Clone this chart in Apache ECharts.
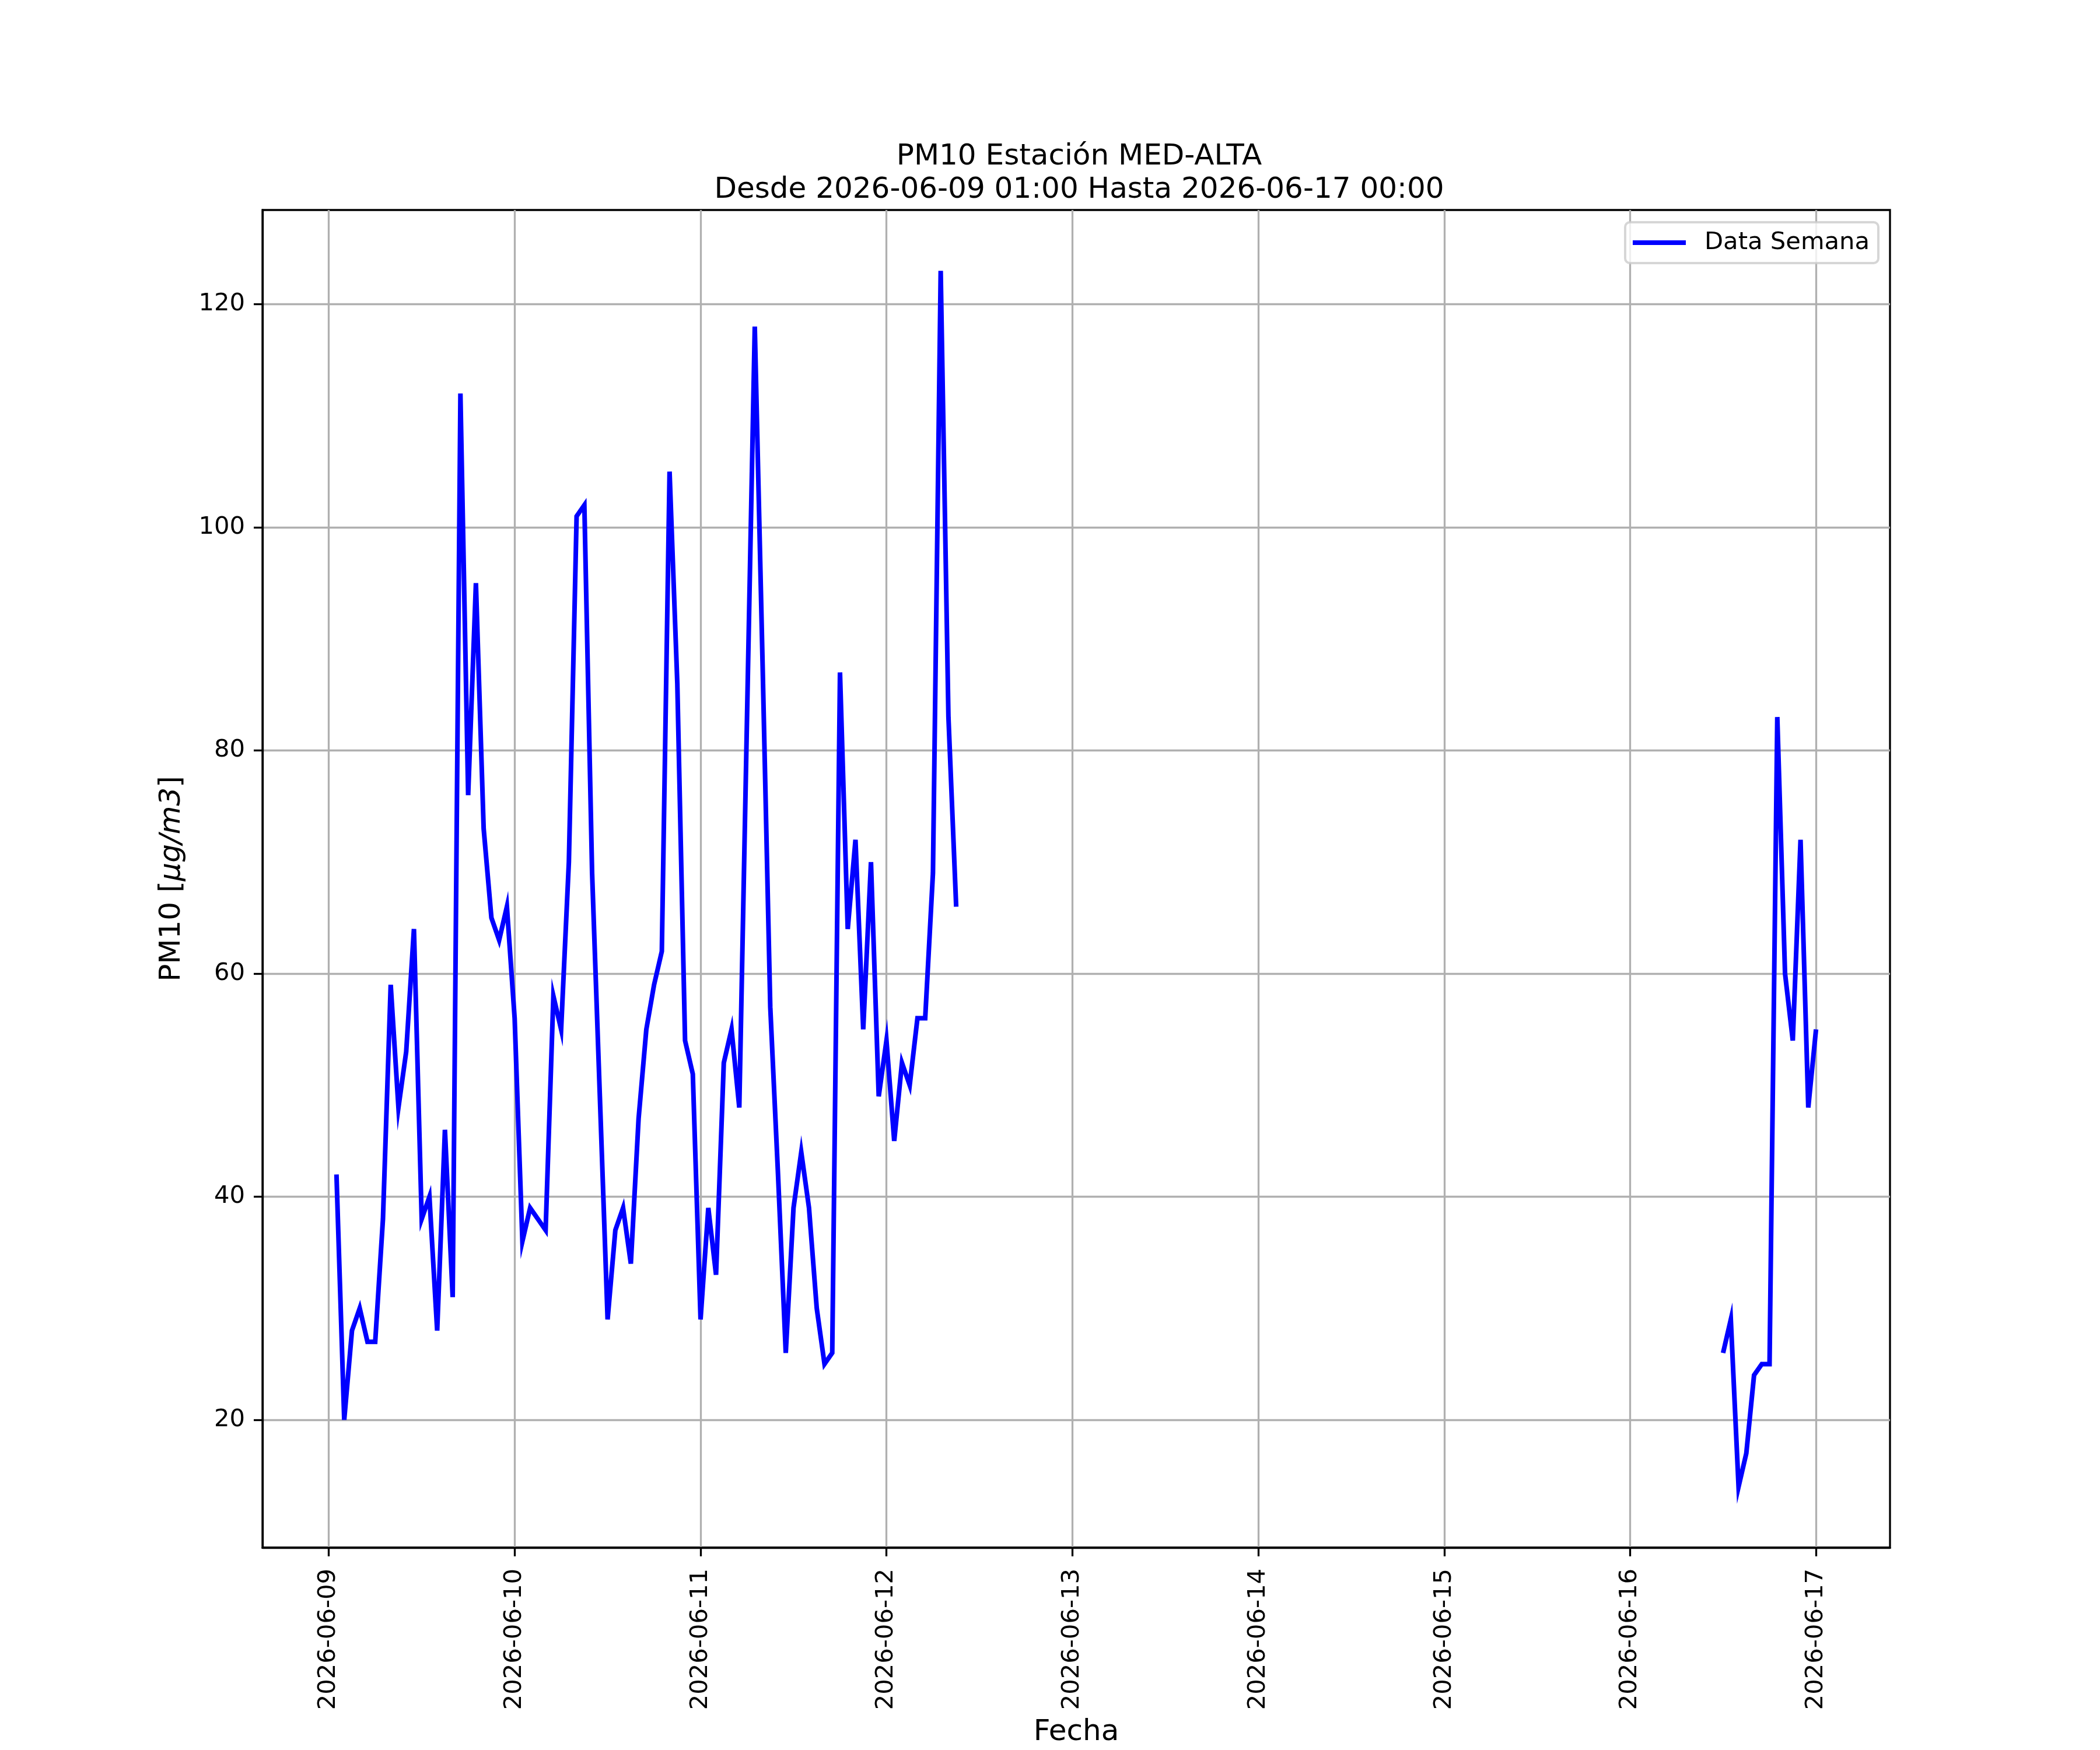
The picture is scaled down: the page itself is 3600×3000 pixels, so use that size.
<!DOCTYPE html>
<html>
<head>
<meta charset="utf-8">
<script src="https://cdn.jsdelivr.net/npm/echarts@6/dist/echarts.min.js"></script>
<style>
html,body{margin:0;padding:0;background:#fff;}
#chart{width:3600px;height:3000px;}
</style>
</head>
<body>
<div id="chart"></div>
<script>
// ---- data ----
const titleLine1 = 'PM10 Estación MED-ALTA';
const titleLine2 = 'Desde 2026-06-09 01:00 Hasta 2026-06-17 00:00';
const seriesName = 'Data Semana';
const xAxisName = 'Fecha';
// first block: hourly values starting 2026-06-09 01:00
const block1Start = '2026-06-09T01:00:00Z';
const block1Values = [
  42, 20, 28, 30, 27, 27, 38, 59, 48, 53, 64, 38, 40, 28, 46, 31, 112, 76, 95, 73,
  65, 63, 66, 56, 36, 39, 38, 37, 58, 55, 70, 101, 102, 69, 49, 29, 37, 39, 34, 47,
  55, 59, 62, 105, 86, 54, 51, 29, 39, 33, 52, 55, 48, 83, 118, 88, 57, 42, 26, 39,
  44, 39, 30, 25, 26, 87, 64, 72, 55, 70, 49, 54, 45, 52, 50, 56, 56, 69, 123, 83,
  66
];
// second block: hourly values starting 2026-06-16 12:00
const block2Start = '2026-06-16T12:00:00Z';
const block2Values = [26, 29, 14, 17, 24, 25, 25, 83, 60, 54, 72, 48, 55];
const xTickLabels = ['2026-06-09','2026-06-10','2026-06-11','2026-06-12','2026-06-13','2026-06-14','2026-06-15','2026-06-16','2026-06-17'];
const yTickValues = [20, 40, 60, 80, 100, 120];

// ---- build ----
const HOUR = 3600000;
function toPairs(start, vals) {
  const t0 = Date.parse(start);
  return vals.map((v, i) => [t0 + i * HOUR, v]);
}
const data1 = toPairs(block1Start, block1Values);
const data2 = toPairs(block2Start, block2Values);
const allX = data1.concat(data2).map(p => p[0]);
const allY = data1.concat(data2).map(p => p[1]);
const xLo = Math.min(...allX), xHi = Math.max(...allX);
const yLo = Math.min(...allY), yHi = Math.max(...allY);
const xm = 0.05 * (xHi - xLo), ym = 0.05 * (yHi - yLo);
const xTicks = xTickLabels.map(s => Date.parse(s + 'T00:00:00Z'));

const FONT = 'DejaVu Sans';
const LW = 3.3;
const chart = echarts.init(document.getElementById('chart'), null, {renderer: 'canvas'});
chart.setOption({
  animation: false,
  backgroundColor: '#ffffff',
  title: {
    text: titleLine1 + '\n' + titleLine2,
    left: 1845,
    top: 236,
    textAlign: 'center',
    textStyle: {fontFamily: FONT, fontSize: 50, fontWeight: 'normal', color: '#000', lineHeight: 57}
  },
  legend: {
    data: [seriesName],
    right: 380,
    top: 381,
    orient: 'vertical',
    backgroundColor: 'rgba(255,255,255,0.8)',
    borderColor: 'rgba(204,204,204,0.8)',
    borderWidth: 4,
    borderRadius: 8,
    padding: [14, 15, 14, 13],
    icon: 'rect',
    itemWidth: 91,
    itemHeight: 8,
    textStyle: {fontFamily: FONT, fontSize: 41.7, color: '#000', padding: [0, 0, 0, 27]}
  },
  grid: {
    left: 450, right: 360, top: 360, bottom: 330,
    show: true, borderColor: '#000', borderWidth: LW, backgroundColor: 'transparent'
  },
  xAxis: {
    type: 'value',
    min: xLo - xm,
    max: xHi + xm,
    name: xAxisName,
    nameLocation: 'middle',
    nameGap: 292,
    nameTextStyle: {fontFamily: FONT, fontSize: 50, color: '#000'},
    axisLine: {show: true, lineStyle: {color: '#000', width: LW}},
    axisTick: {show: true, length: 15, lineStyle: {color: '#000', width: LW}, customValues: xTicks},
    axisLabel: {
      customValues: xTicks,
      rotate: 90,
      margin: 36,
      fontFamily: FONT, fontSize: 41.7, color: '#000',
      formatter: v => new Date(v).toISOString().slice(0, 10)
    },
    splitLine: {show: true, lineStyle: {color: '#b0b0b0', width: LW}}
  },
  yAxis: {
    type: 'value',
    min: yLo - ym,
    max: yHi + ym,
    name: '{n|PM10 [}{i|μg/m3}{n|]}',
    nameLocation: 'middle',
    nameRotate: 90,
    nameGap: 130,
    nameTextStyle: {
      fontFamily: FONT, fontSize: 50, color: '#000',
      rich: {
        n: {fontFamily: FONT, fontSize: 50, color: '#000'},
        i: {fontFamily: FONT, fontSize: 50, color: '#000', fontStyle: 'italic'}
      }
    },
    axisLine: {show: true, lineStyle: {color: '#000', width: LW}},
    axisTick: {show: true, length: 15, lineStyle: {color: '#000', width: LW}, customValues: yTickValues},
    axisLabel: {
      customValues: yTickValues,
      margin: 30,
      fontFamily: FONT, fontSize: 41.7, color: '#000'
    },
    splitLine: {show: true, lineStyle: {color: '#b0b0b0', width: LW}}
  },
  series: [
    {name: seriesName, type: 'line', data: data1, showSymbol: false, symbol: 'none',
     lineStyle: {color: '#0000ff', width: 8, join: 'miter'}, itemStyle: {color: '#0000ff'}},
    {name: seriesName, type: 'line', data: data2, showSymbol: false, symbol: 'none',
     lineStyle: {color: '#0000ff', width: 8, join: 'miter'}, itemStyle: {color: '#0000ff'}}
  ]
});
</script>
</body>
</html>
